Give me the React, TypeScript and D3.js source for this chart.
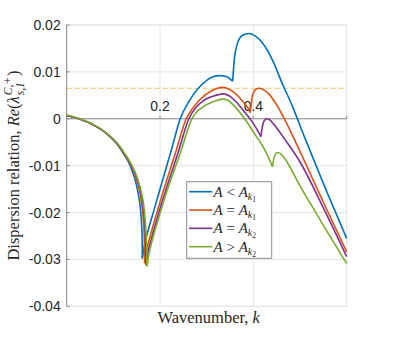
import React, { useEffect, useRef } from "react";
import * as d3 from "d3";

type Pt = [number, number];

const yTicks = [-0.04, -0.03, -0.02, -0.01, 0, 0.01, 0.02];
const yTickLabels = ["-0.04", "-0.03", "-0.02", "-0.01", "0", "0.01", "0.02"];
const xTicks = [0.2, 0.4];
const xTickLabels = ["0.2", "0.4"];
const criticalLevel = 0.0065;

const legendRel = ["<", "=", "=", ">"];
const legendSub = ["1", "1", "2", "2"];
const seriesColors = ["#0072BD", "#D95319", "#7E2F8E", "#77AC30"];

// [k, Re(lambda)], each curve split at its cusps
const blueDrop: Pt[] = [[0, 0.0007], [0.028, -0.00005], [0.057, -0.0013], [0.085, -0.0031], [0.107, -0.0053], [0.124, -0.0078], [0.136, -0.01], [0.146, -0.0128], [0.153, -0.0158], [0.158, -0.0192], [0.1605, -0.0225], [0.1617, -0.026], [0.162, -0.0298]];
const blueRise: Pt[] = [[0.162, -0.0298], [0.1665, -0.027], [0.174, -0.024], [0.186, -0.0198], [0.2, -0.015], [0.2241, -0.0067], [0.2433, 0], [0.262, 0.0037], [0.282, 0.0065], [0.3, 0.0082], [0.315, 0.009], [0.327, 0.0092], [0.3415, 0.009], [0.3556, 0.008]];
const blueTail: Pt[] = [[0.3556, 0.008], [0.359, 0.0125], [0.366, 0.0161], [0.377, 0.0178], [0.391, 0.0182], [0.406, 0.0175], [0.42, 0.0161], [0.441, 0.0125], [0.462, 0.0075], [0.484, 0.0026], [0.512, -0.0045], [0.555, -0.015], [0.6, -0.0255]];

const orangeDrop: Pt[] = [[0, 0.0007], [0.028, -0.00005], [0.057, -0.0013], [0.085, -0.0031], [0.108, -0.0053], [0.125, -0.0078], [0.138, -0.01], [0.149, -0.0128], [0.157, -0.0158], [0.162, -0.0192], [0.165, -0.0227], [0.1665, -0.0265], [0.167, -0.0308]];
const orangeRise: Pt[] = [[0.167, -0.0308], [0.1715, -0.028], [0.179, -0.025], [0.191, -0.0208], [0.205, -0.0161], [0.2348, -0.0067], [0.2561, 0], [0.269, 0.0021], [0.2845, 0.004], [0.313, 0.0061], [0.333, 0.0067], [0.346, 0.0064], [0.3597, 0.0055], [0.3775, 0.0037], [0.3882, 0.0023], [0.3934, 0.0013]];
const orangeTail: Pt[] = [[0.3934, 0.0013], [0.3983, 0.005], [0.4055, 0.0063], [0.4126, 0.0065], [0.4233, 0.0061], [0.434, 0.0052], [0.4446, 0.0038], [0.466, 0.0001], [0.4873, -0.0043], [0.55, -0.0178], [0.6, -0.0284]];

const purpleDrop: Pt[] = [[0, 0.0007], [0.028, -0.00005], [0.057, -0.0013], [0.085, -0.0031], [0.108, -0.0053], [0.126, -0.0078], [0.139, -0.01], [0.151, -0.0128], [0.159, -0.0158], [0.1645, -0.0192], [0.1675, -0.0228], [0.1692, -0.0268], [0.17, -0.0312]];
const purpleRise: Pt[] = [[0.17, -0.0312], [0.1745, -0.0284], [0.182, -0.0254], [0.194, -0.0212], [0.208, -0.0166], [0.2403, -0.0067], [0.2617, 0], [0.276, 0.0023], [0.2952, 0.004], [0.3236, 0.0051], [0.335, 0.0053], [0.348, 0.0049], [0.3593, 0.004], [0.3806, 0.0015], [0.4019, -0.0013], [0.4162, -0.0038]];
const purpleTail: Pt[] = [[0.4162, -0.0038], [0.4195, -0.0016], [0.4235, -0.0004], [0.429, 0], [0.436, -0.0003], [0.4446, -0.0013], [0.4696, -0.0047], [0.4981, -0.0089], [0.55, -0.019], [0.6, -0.0294]];

const greenDrop: Pt[] = [[0, 0.0008], [0.028, 0], [0.057, -0.0012], [0.085, -0.003], [0.109, -0.0053], [0.127, -0.0078], [0.14, -0.01], [0.152, -0.0128], [0.16, -0.0158], [0.166, -0.0192], [0.169, -0.0229], [0.1712, -0.027], [0.172, -0.0315]];
const greenRise: Pt[] = [[0.172, -0.0315], [0.1765, -0.0287], [0.184, -0.0257], [0.196, -0.0215], [0.21, -0.0169], [0.2455, -0.0067], [0.2681, 0], [0.281, 0.0017], [0.2916, 0.0025], [0.306, 0.0033], [0.322, 0.0039], [0.334, 0.0042], [0.346, 0.0039], [0.3593, 0.0027], [0.3806, 0.0001], [0.4019, -0.0031], [0.4233, -0.0064], [0.441, -0.0102]];
const greenTail: Pt[] = [[0.441, -0.0102], [0.4445, -0.0082], [0.4517, -0.0072], [0.459, -0.0075], [0.468, -0.0086], [0.4839, -0.0113], [0.4981, -0.014], [0.5266, -0.0188], [0.562, -0.0247], [0.6, -0.0309]];

const series: Pt[][][] = [
  [blueDrop, blueRise, blueTail],
  [orangeDrop, orangeRise, orangeTail],
  [purpleDrop, purpleRise, purpleTail],
  [greenDrop, greenRise, greenTail],
];

export default function App() {
  const ref = useRef<SVGSVGElement>(null);

  useEffect(() => {
    const svg = d3.select(ref.current);
    svg.selectAll("*").remove();

    const sans = "'Liberation Sans', Arial, sans-serif";
    const serif = "'Liberation Serif', 'Times New Roman', serif";

    const x = d3.scaleLinear().domain([0, 0.6]).range([66.7, 346.7]);
    const y = d3.scaleLinear().domain([-0.04, 0.02]).range([306.3, 25]);
    const [x0, x1] = x.range();
    const grid = "#e4e4e4";
    const axis = "#8a8a8a";

    // box + grid
    svg.append("rect")
      .attr("x", x0).attr("y", y(0.02))
      .attr("width", x1 - x0).attr("height", y(-0.04) - y(0.02))
      .attr("fill", "white").attr("stroke", grid);

    svg.append("g").selectAll("line").data(yTicks).join("line")
      .attr("x1", x0).attr("x2", x1)
      .attr("y1", (d) => y(d)).attr("y2", (d) => y(d))
      .attr("stroke", grid);

    svg.append("g").selectAll("line").data(xTicks).join("line")
      .attr("x1", (d) => x(d)).attr("x2", (d) => x(d))
      .attr("y1", y(0.02)).attr("y2", y(-0.04))
      .attr("stroke", grid);

    // y axis on the left, x axis through the origin
    svg.append("line")
      .attr("x1", x0).attr("x2", x0).attr("y1", y(0.02)).attr("y2", y(-0.04))
      .attr("stroke", axis);
    svg.append("g").selectAll("line").data(yTicks).join("line")
      .attr("x1", x0).attr("x2", x0 + 3)
      .attr("y1", (d) => y(d)).attr("y2", (d) => y(d))
      .attr("stroke", axis);
    svg.append("line")
      .attr("x1", x0).attr("x2", x1).attr("y1", y(0)).attr("y2", y(0))
      .attr("stroke", axis);
    svg.append("g").selectAll("line").data([...xTicks, 0.6]).join("line")
      .attr("x1", (d) => x(d)).attr("x2", (d) => x(d))
      .attr("y1", y(0)).attr("y2", y(0) - 3)
      .attr("stroke", axis);

    svg.append("g").selectAll("text").data(yTicks).join("text")
      .attr("x", x0 - 6).attr("y", (d) => y(d) + 5)
      .attr("text-anchor", "end")
      .attr("font-family", sans).attr("font-size", 14).attr("fill", "#262626")
      .text((d, i) => yTickLabels[i]);

    svg.append("g").selectAll("text").data(xTicks).join("text")
      .attr("x", (d) => x(d)).attr("y", y(0) - 8)
      .attr("text-anchor", "middle")
      .attr("font-family", sans).attr("font-size", 14).attr("fill", "#262626")
      .text((d, i) => xTickLabels[i]);

    // threshold
    svg.append("line")
      .attr("x1", x0).attr("x2", x1)
      .attr("y1", y(criticalLevel)).attr("y2", y(criticalLevel))
      .attr("stroke", "#EDB120").attr("stroke-opacity", 0.75)
      .attr("stroke-dasharray", "5,3");

    const line = d3.line<Pt>()
      .x((d) => x(d[0]))
      .y((d) => y(d[1]))
      .curve(d3.curveMonotoneX);

    series.forEach((segs, i) => {
      segs.forEach((seg) => {
        svg.append("path")
          .attr("d", line(seg))
          .attr("fill", "none")
          .attr("stroke", seriesColors[i])
          .attr("stroke-width", 1.6)
          .attr("stroke-linejoin", "round");
      });
    });

    // axis titles
    const xl = svg.append("text")
      .attr("x", (x0 + x1) / 2 + 2).attr("y", 323)
      .attr("text-anchor", "middle")
      .attr("font-family", serif).attr("font-size", 16.5).attr("fill", "#262626");
    xl.append("tspan").text("Wavenumber, ");
    xl.append("tspan").attr("font-style", "italic").text("k");

    const yl = svg.append("g");
    const main = yl.append("text")
      .attr("font-family", serif).attr("font-size", 16.5).attr("fill", "#262626");
    main.append("tspan").text("Dispersion relation, ");
    main.append("tspan").attr("font-style", "italic").text("Re");
    main.append("tspan").text("(");
    main.append("tspan").attr("font-style", "italic").text("λ");
    const w1 = (main.node() as SVGTextElement).getComputedTextLength();
    const sup = yl.append("text")
      .attr("x", w1 + 1).attr("y", -7)
      .attr("font-family", serif).attr("font-size", 11.5).attr("font-style", "italic")
      .attr("fill", "#262626").text("C,+");
    const sub = yl.append("text")
      .attr("x", w1 + 1).attr("y", 4.5)
      .attr("font-family", serif).attr("font-size", 11.5).attr("font-style", "italic")
      .attr("fill", "#262626").text("s,1");
    const w2 = Math.max(
      (sup.node() as SVGTextElement).getComputedTextLength(),
      (sub.node() as SVGTextElement).getComputedTextLength()
    );
    const close = yl.append("text")
      .attr("x", w1 + w2 + 2)
      .attr("font-family", serif).attr("font-size", 16.5).attr("fill", "#262626")
      .text(")");
    const total = w1 + w2 + 2 + (close.node() as SVGTextElement).getComputedTextLength();
    yl.attr("transform", `translate(19,${165.5 + total / 2}) rotate(-90)`);

    // legend
    const lg = svg.append("g");
    lg.append("rect")
      .attr("x", 186.7).attr("y", 181.7).attr("width", 85).attr("height", 76.6)
      .attr("fill", "white").attr("stroke", "#8c8c8c");
    seriesColors.forEach((c, i) => {
      const cy = 191.7 + i * 18.33;
      lg.append("line")
        .attr("x1", 189).attr("x2", 212.3).attr("y1", cy).attr("y2", cy)
        .attr("stroke", c).attr("stroke-width", 1.6);
      const t = lg.append("text")
        .attr("x", 213.5).attr("y", cy + 5)
        .attr("font-family", serif).attr("font-size", 15).attr("fill", "#262626");
      t.append("tspan").attr("font-style", "italic").text("A");
      t.append("tspan").text(` ${legendRel[i]} `);
      t.append("tspan").attr("font-style", "italic").text("A");
      t.append("tspan").attr("font-style", "italic").attr("font-size", 10).attr("dy", 3).text("k");
      t.append("tspan").attr("font-size", 7.5).attr("dy", 2).text(legendSub[i]);
    });
  }, []);

  return (
    <svg
      ref={ref}
      width={399}
      height={344}
      style={{ position: "absolute", left: 0, top: 0, background: "#fff" }}
    />
  );
}
